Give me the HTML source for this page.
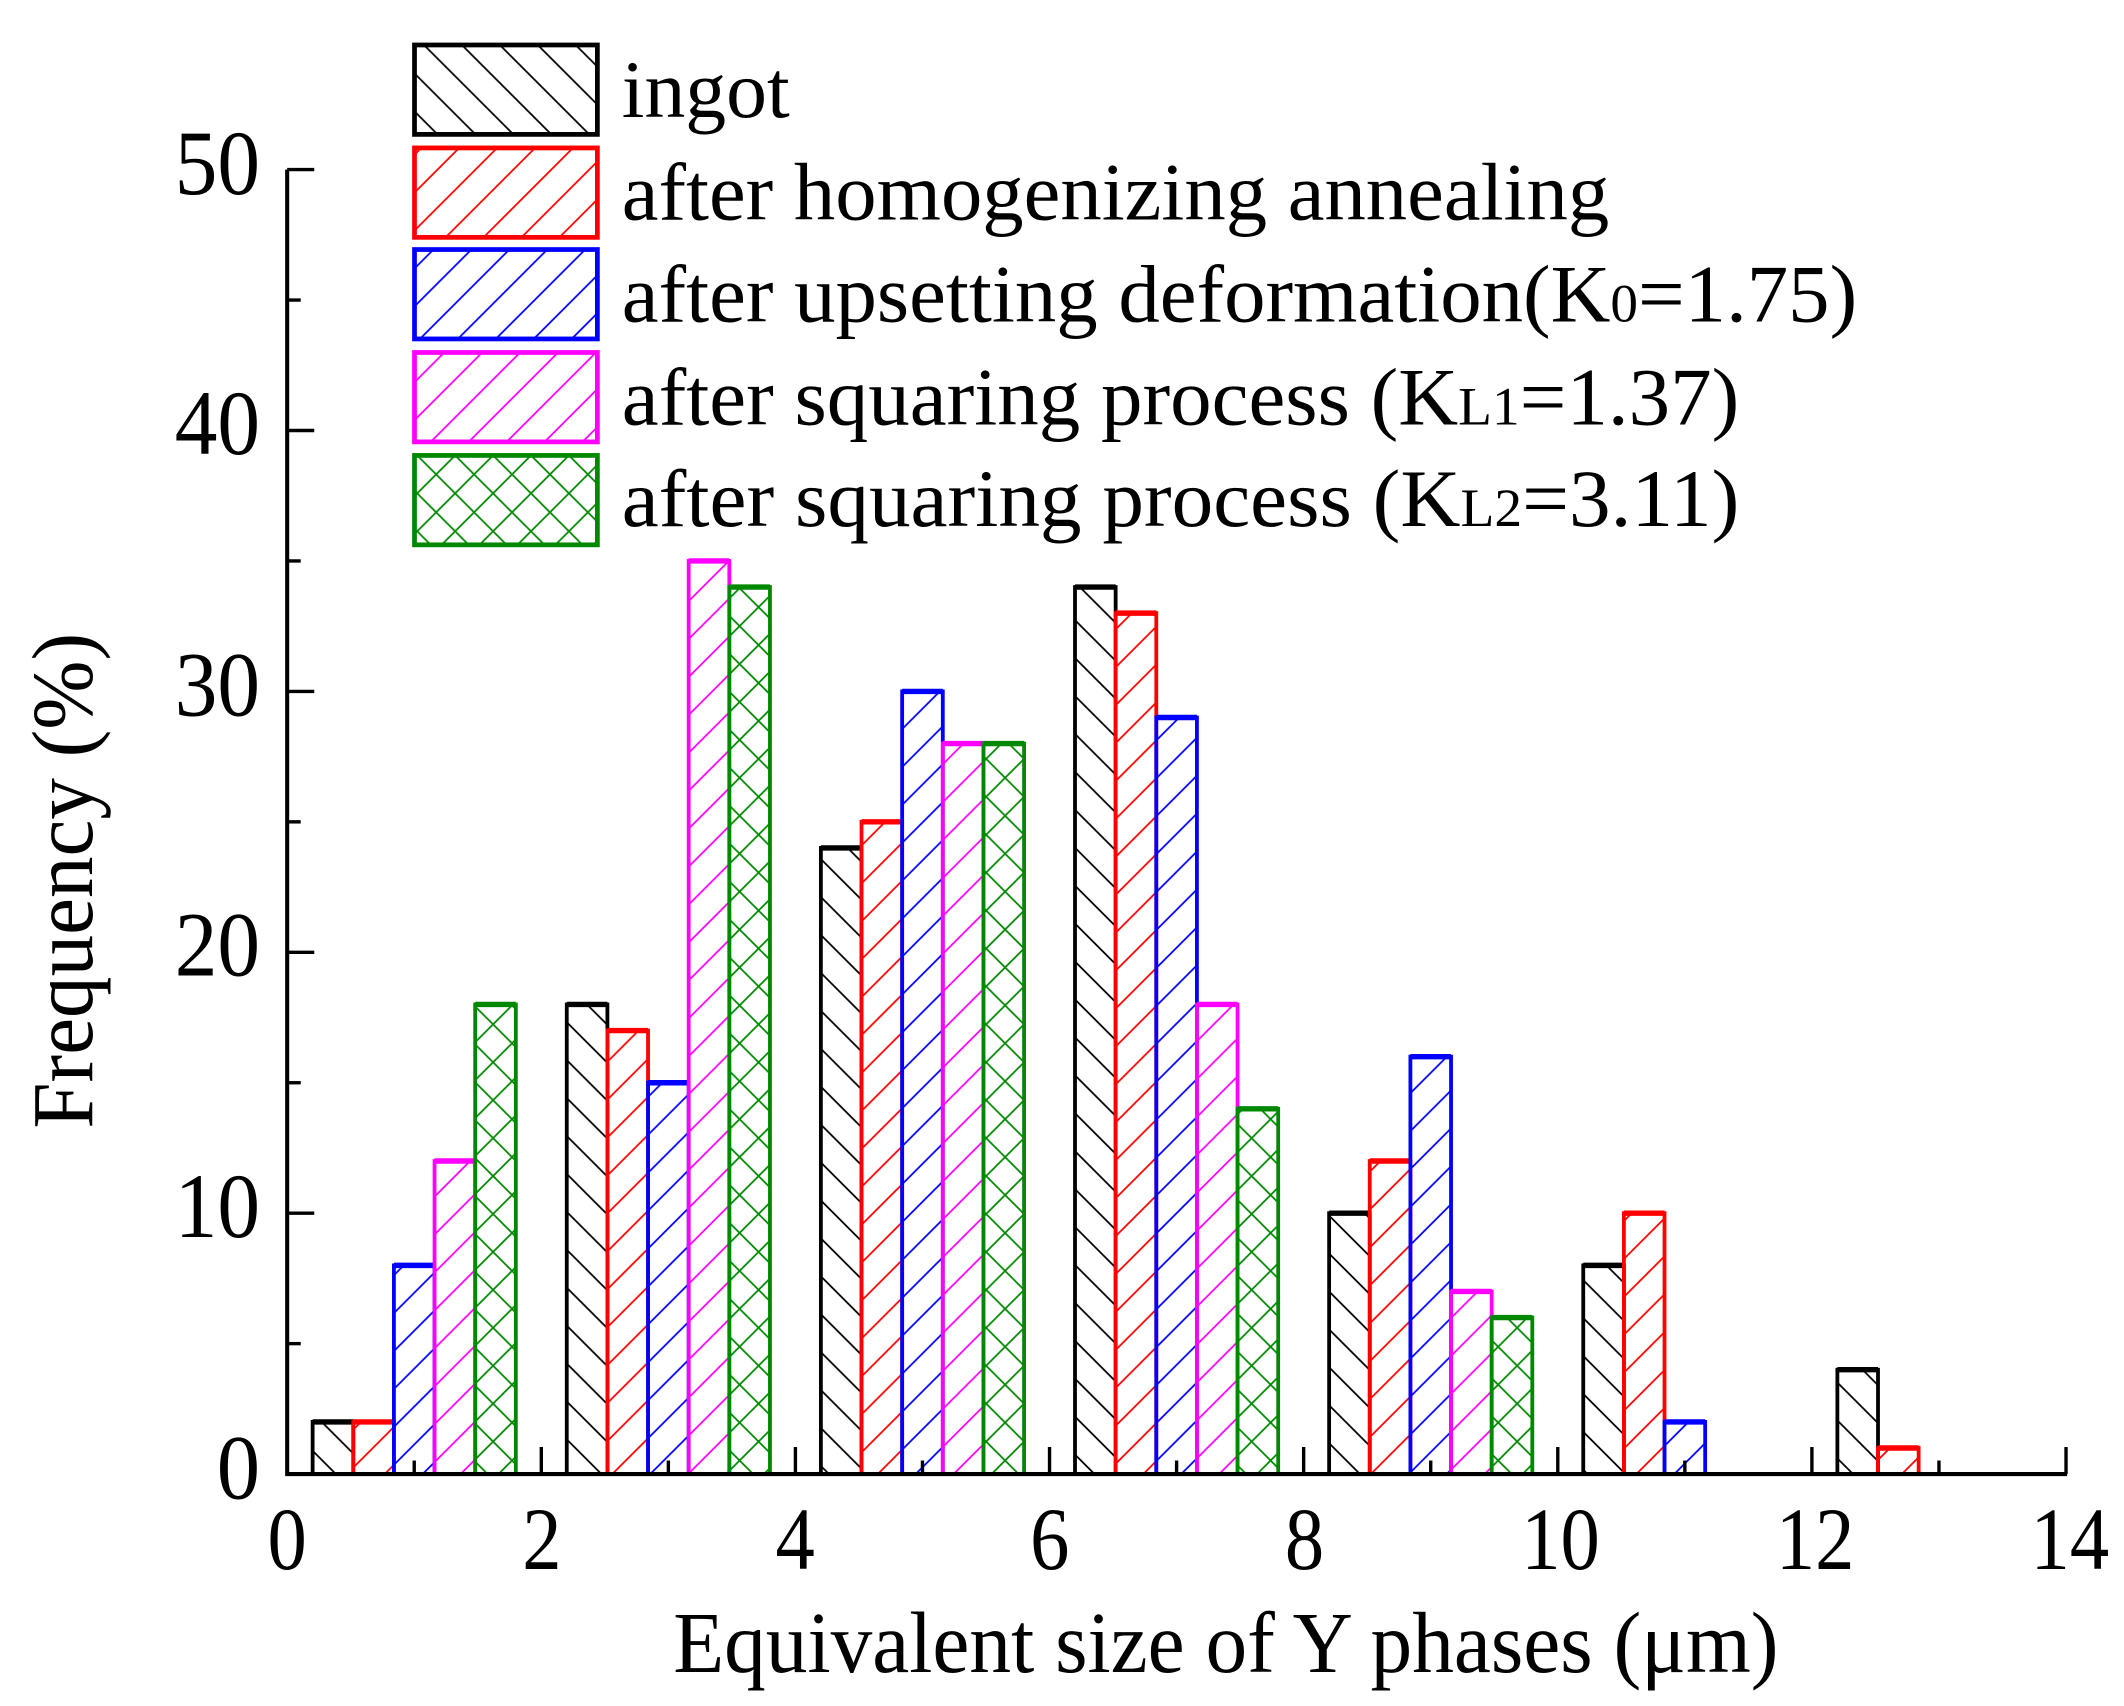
<!DOCTYPE html>
<html><head><meta charset="utf-8"><style>html,body{margin:0;padding:0;background:#fff}svg{display:block}</style></head>
<body>
<svg width="2124" height="1706" viewBox="0 0 1568 1259" xmlns="http://www.w3.org/2000/svg" font-family="Liberation Serif, serif">
<defs>
<pattern id="pk" width="28" height="28" patternUnits="userSpaceOnUse"><path d="M-7,-7 L35,35 M-7,21 L7,35 M21,-7 L35,7" stroke="#000" stroke-width="1.3"/></pattern>
<pattern id="pr" width="28" height="28" patternUnits="userSpaceOnUse"><path d="M-7,35 L35,-7 M-7,7 L7,-7 M21,35 L35,21" stroke="#f00" stroke-width="1.3"/></pattern>
<pattern id="pb" width="28" height="28" patternUnits="userSpaceOnUse"><path d="M-7,35 L35,-7 M-7,7 L7,-7 M21,35 L35,21" stroke="#00f" stroke-width="1.3"/></pattern>
<pattern id="pm" width="28" height="28" patternUnits="userSpaceOnUse"><path d="M-7,35 L35,-7 M-7,7 L7,-7 M21,35 L35,21" stroke="#f0f" stroke-width="1.3"/></pattern>
<pattern id="pg" width="28" height="28" patternUnits="userSpaceOnUse"><path d="M-7,35 L35,-7 M-7,7 L7,-7 M21,35 L35,21 M-7,-7 L35,35 M-7,21 L7,35 M21,-7 L35,7" stroke="#080" stroke-width="1.3"/></pattern>
</defs>
<g id="bars" stroke-width="2.8"></g>
<g stroke="#000" stroke-width="3" fill="none">
<path d="M212,125 L212,1088 L1526,1088"/>
</g>
<g id="ticks" stroke="#000" stroke-width="2.5"></g>
<g font-size="68" fill="#000" lengthAdjust="spacingAndGlyphs">
<text x="192" y="1106" text-anchor="end" textLength="32" lengthAdjust="spacingAndGlyphs">0</text>
<text x="192" y="913" text-anchor="end" textLength="63" lengthAdjust="spacingAndGlyphs">10</text>
<text x="192" y="720" text-anchor="end" textLength="63" lengthAdjust="spacingAndGlyphs">20</text>
<text x="192" y="528" text-anchor="end" textLength="63" lengthAdjust="spacingAndGlyphs">30</text>
<text x="192" y="335" text-anchor="end" textLength="63" lengthAdjust="spacingAndGlyphs">40</text>
<text x="192" y="143" text-anchor="end" textLength="63" lengthAdjust="spacingAndGlyphs">50</text>
</g>
<g font-size="66" fill="#000" text-anchor="middle">
<text x="212" y="1158" textLength="29" lengthAdjust="spacingAndGlyphs">0</text><text x="400" y="1158" textLength="29" lengthAdjust="spacingAndGlyphs">2</text><text x="587" y="1158" textLength="29" lengthAdjust="spacingAndGlyphs">4</text><text x="775" y="1158" textLength="29" lengthAdjust="spacingAndGlyphs">6</text><text x="963" y="1158" textLength="29" lengthAdjust="spacingAndGlyphs">8</text><text x="1152" y="1158" textLength="58" lengthAdjust="spacingAndGlyphs">10</text><text x="1340" y="1158" textLength="58" lengthAdjust="spacingAndGlyphs">12</text><text x="1528" y="1158" textLength="58" lengthAdjust="spacingAndGlyphs">14</text>
</g>
<text x="905" y="1234" font-size="64" text-anchor="middle" textLength="816" lengthAdjust="spacingAndGlyphs">Equivalent size of Y phases (μm)</text>
<text transform="translate(68,650) rotate(-90)" font-size="64" text-anchor="middle" textLength="366" lengthAdjust="spacingAndGlyphs">Frequency (%)</text>
<g stroke-width="3.5">
<rect x="306" y="33" width="135" height="66" fill="url(#pk)" stroke="#000"/>
<rect x="306" y="109" width="135" height="66" fill="url(#pr)" stroke="#f00"/>
<rect x="306" y="184" width="135" height="66" fill="url(#pb)" stroke="#00f"/>
<rect x="306" y="260" width="135" height="66" fill="url(#pm)" stroke="#f0f"/>
<rect x="306" y="336" width="135" height="66" fill="url(#pg)" stroke="#080"/>
</g>
<g font-size="60" fill="#000">
<text x="459" y="86" textLength="124" lengthAdjust="spacingAndGlyphs">ingot</text>
<text x="459" y="162" textLength="729" lengthAdjust="spacingAndGlyphs">after homogenizing annealing</text>
<text x="459" y="237" textLength="912" lengthAdjust="spacingAndGlyphs">after upsetting deformation(K<tspan font-size="40">0</tspan>=1.75)</text>
<text x="459" y="313" textLength="825" lengthAdjust="spacingAndGlyphs">after squaring process (K<tspan font-size="40">L1</tspan>=1.37)</text>
<text x="459" y="388" textLength="825" lengthAdjust="spacingAndGlyphs">after squaring process (K<tspan font-size="40">L2</tspan>=3.11)</text>
</g>
<script>
(function(){
var ns="http://www.w3.org/2000/svg";
var data=[[2,2,8,12,18],[18,17,15,35,34],[24,25,30,28,28],[34,33,29,18,14],[10,12,16,7,6],[8,10,2,0,0],[4,1,0,0,0]];
var fills=["url(#pk)","url(#pr)","url(#pb)","url(#pm)","url(#pg)"];
var cols=["#000","#f00","#00f","#f0f","#080"];
var g=document.getElementById("bars");
var X=function(v){return 212+v*93.8;},Y=function(v){return 1088-v*19.26;};
data.forEach(function(grp,i){
 var c=X(1+2*i);
 grp.forEach(function(v,j){
  if(v<=0)return;
  var x=c-75+j*30,y=Y(v);
  var r=document.createElementNS(ns,"rect");
  r.setAttribute("x",x);r.setAttribute("y",y);r.setAttribute("width",30);r.setAttribute("height",1088-y);
  r.setAttribute("fill",fills[j]);r.setAttribute("stroke",cols[j]);
  g.appendChild(r);
  var l=document.createElementNS(ns,"line");
  l.setAttribute("x1",x);l.setAttribute("x2",x+30);l.setAttribute("y1",y);l.setAttribute("y2",y);
  l.setAttribute("stroke",cols[j]);l.setAttribute("stroke-width",4);
  g.appendChild(l);
 });
});
var t=document.getElementById("ticks");
function ln(a,b,c,d){var l=document.createElementNS(ns,"line");l.setAttribute("x1",a);l.setAttribute("y1",b);l.setAttribute("x2",c);l.setAttribute("y2",d);t.appendChild(l);}
for(var k=0;k<=14;k++){var x=X(k);ln(x,1088,x,1088-(k%2==0?20:10));}
for(var k=0;k<=50;k+=5){var y=Y(k);ln(212,y,212+(k%10==0?20:10),y);}
})();
</script>
</svg>
</body></html>
